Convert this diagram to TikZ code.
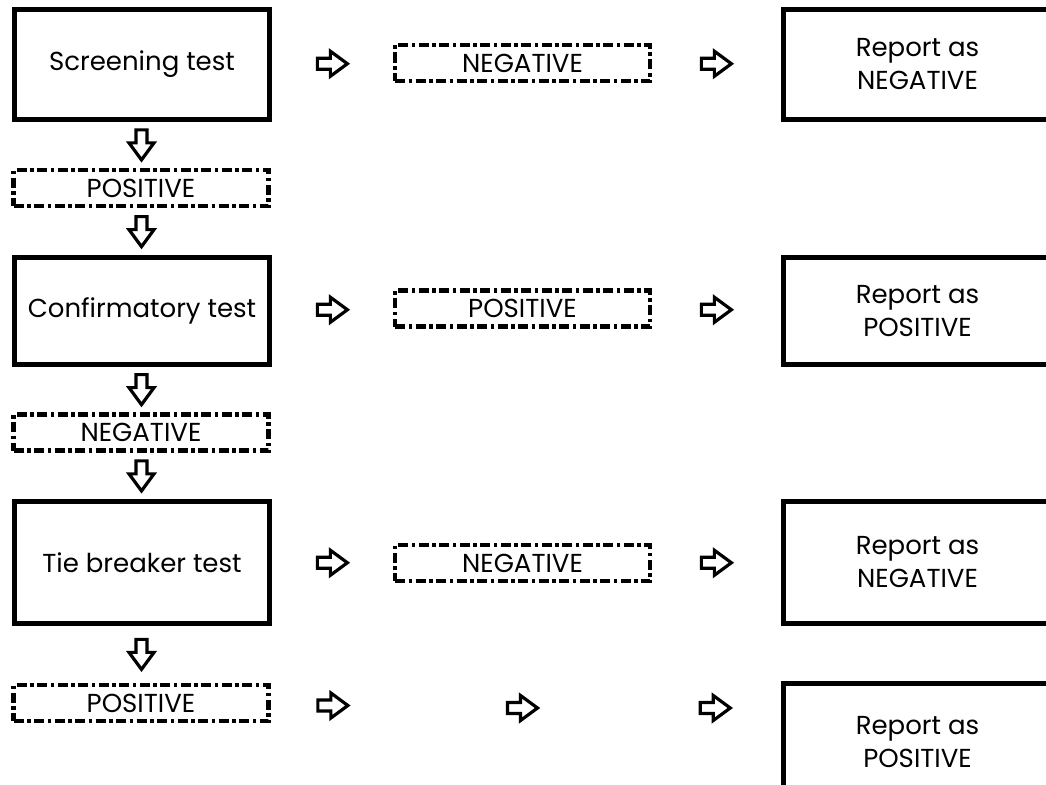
\documentclass[tikz,border=0pt]{standalone}
\usepackage{fontspec}
\setmainfont{Poppins}
\usetikzlibrary{calc,positioning}
\tikzset{testbox/.style={draw, line width=5pt, minimum width=255pt,
  align=center, font=\fontsize{26}{33}\selectfont}}
\tikzset{resbox/.style={draw, line width=4.5pt,
  dash pattern=on 10pt off 3.5pt on 3.5pt off 3.5pt,
  minimum width=255pt, minimum height=36pt, inner sep=0pt,
  font=\fontsize{26}{33}\selectfont}}
\tikzset{fatarrow/.pic={\draw [line width=3.2pt] (-15,-5.5) -- (-2,-5.5) -- (-2,-12.5)
  -- (15,0) -- (-2,12.5) -- (-2,5.5) -- (-15,5.5) -- cycle;}}

\begin{document}
\begin{tikzpicture}[x=1pt, y=-1pt]
      \useasboundingbox (0,0) rectangle (1046,784);
      \node [testbox, minimum height=110pt] (scr) at (142,64.5) {Screening test};
      \node [resbox] (negA) at (522.5,63) {NEGATIVE};
      \node [testbox, minimum width=269pt, minimum height=110pt] (repA) at (917.5,64.5) {Report as\\NEGATIVE};

      \node [resbox] (posA) at (141,188) {POSITIVE};

      \node [testbox, minimum height=107pt] (conf) at (142,311) {Confirmatory test};
      \node [resbox] (posB) at (522.5,308.5) {POSITIVE};
      \node [testbox, minimum width=269pt, minimum height=107pt] (repB) at (917.5,311) {Report as\\POSITIVE};

      \node [resbox] (negB) at (141,432.5) {NEGATIVE};

      \node [testbox, minimum height=122pt] (tie) at (142,562.5) {Tie breaker test};
      \node [resbox] (negC) at (522.5,563) {NEGATIVE};
      \node [testbox, minimum width=269pt, minimum height=122pt] (repC) at (917.5,562.5) {Report as\\NEGATIVE};

      \node [resbox] (posC) at (141,703) {POSITIVE};
      \coordinate (skipW) at (395,708);
      \coordinate (skipE) at (650,708);
      \node [testbox, minimum width=269pt, minimum height=117pt] (repD) at (917.5,742) {Report as\\POSITIVE};

      \foreach \a/\b in {scr/posA, posA/conf, conf/negB, negB/tie, tie/posC}
        \pic [rotate=-90] at ($(\a.south)!0.5!(\b.north)$) {fatarrow};
      \foreach \a/\b in {scr/negA, negA/repA, conf/posB, posB/repB, tie/negC, negC/repC}
        \pic at ($(\a.east)!0.5!(\b.west)$) {fatarrow};
      \pic at ($(posC.east)!0.5!(skipW)$) {fatarrow};
      \pic at ($(skipW)!0.5!(skipE)$) {fatarrow};
      \pic at ($(skipE)!0.5!(repD.west |- skipE)$) {fatarrow};
\end{tikzpicture}
\end{document}
